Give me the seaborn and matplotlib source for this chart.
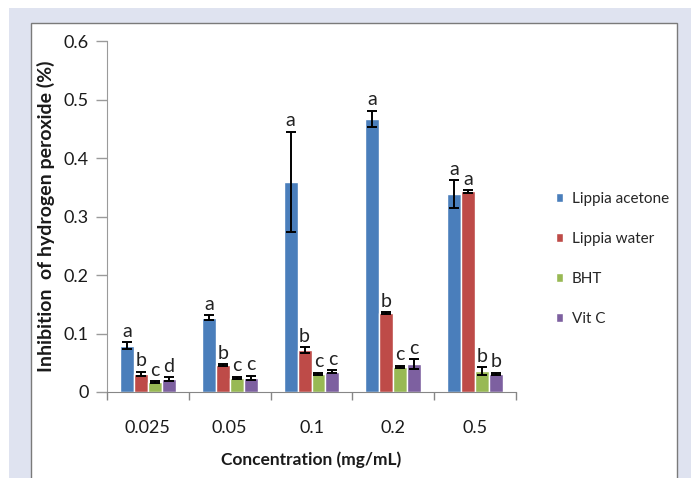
"""Inhibition of hydrogen peroxide by Lippia extracts vs. reference antioxidants."""
import matplotlib
matplotlib.use("Agg")
import matplotlib.pyplot as plt
import numpy as np
import pandas as pd
import seaborn as sns
from matplotlib.patches import Rectangle
from matplotlib.ticker import FixedLocator

# ---------------------------------------------------------------------------
# Data
# ---------------------------------------------------------------------------
concentrations = ["0.025", "0.05", "0.1", "0.2", "0.5"]
series = ["Lippia acetone", "Lippia water", "BHT", "Vit C"]

acetone_mean = [0.079, 0.127, 0.359, 0.467, 0.338]
acetone_err = [0.006, 0.004, 0.086, 0.014, 0.024]
water_mean = [0.031, 0.046, 0.072, 0.135, 0.343]
water_err = [0.004, 0.002, 0.005, 0.002, 0.002]
bht_mean = [0.017, 0.024, 0.031, 0.043, 0.036]
bht_err = [0.002, 0.002, 0.002, 0.002, 0.007]
vitc_mean = [0.022, 0.024, 0.035, 0.048, 0.031]
vitc_err = [0.003, 0.004, 0.002, 0.008, 0.002]

acetone_letters = ["a", "a", "a", "a", "a"]
water_letters = ["b", "b", "b", "b", "a"]
bht_letters = ["c", "c", "c", "c", "b"]
vitc_letters = ["d", "c", "c", "c", "b"]

colors = ["#4a7ebb", "#be4b48", "#98b954", "#7d60a0"]

means = [acetone_mean, water_mean, bht_mean, vitc_mean]
errs = [acetone_err, water_err, bht_err, vitc_err]
letters = [acetone_letters, water_letters, bht_letters, vitc_letters]

df = pd.DataFrame({
    "conc": np.tile(concentrations, len(series)),
    "group": np.repeat(series, len(concentrations)),
    "value": np.concatenate(means),
})

# ---------------------------------------------------------------------------
# Figure
# ---------------------------------------------------------------------------
sns.set_style("white")
plt.rcParams["font.family"] = ["Lato", "DejaVu Sans"]

W, H = 691, 478
fig = plt.figure(figsize=(W / 100, H / 100), dpi=100)

# lavender page background + white framed chart area
fig.patches.append(Rectangle((9 / W, 0), 1, 1 - 8 / H, transform=fig.transFigure,
                             facecolor="#dfe3f0", edgecolor="none", zorder=-3))
fig.patches.append(Rectangle((31 / W, -0.05), (677 - 31) / W, 0.05 + 1 - 23 / H,
                             transform=fig.transFigure, facecolor="white",
                             edgecolor="#7a7a7a", linewidth=1.0, zorder=-2))

ax = fig.add_axes([107 / W, 1 - 392 / H, (516 - 107) / W, (392 - 41) / H])
ax.patch.set_alpha(0)

sns.barplot(data=df, x="conc", y="value", hue="group", order=concentrations,
            hue_order=series, palette=colors, errorbar=None, width=0.68,
            gap=0, saturation=1, ax=ax, legend=True)

# error bars and significance letters on top of seaborn's bars
for container, m, e, lt in zip(ax.containers, means, errs, letters):
    for bar, v, s, t in zip(container.patches, m, e, lt):
        xc = bar.get_x() + bar.get_width() / 2
        ax.errorbar(xc, v, yerr=s, fmt="none", ecolor="black",
                    elinewidth=1.4, capsize=3.5, capthick=1.4, zorder=4)
        ax.text(xc, v + s + 0.004, t, ha="center", va="bottom",
                fontsize=14, color="#222222", zorder=5)

ax.set_ylim(0, 0.6)
ax.set_xlim(-0.5, len(concentrations) - 0.5)
ax.set_yticks(np.arange(0, 0.61, 0.1))
ax.set_yticklabels(["0", "0.1", "0.2", "0.3", "0.4", "0.5", "0.6"])
ax.xaxis.set_minor_locator(FixedLocator(np.arange(-0.5, len(concentrations), 1.0)))
ax.tick_params(axis="x", which="major", length=0, pad=20, labelsize=13,
               labelcolor="#1a1a1a")
ax.tick_params(axis="x", which="minor", length=6, width=1, color="#868686",
               direction="out", bottom=True)
ax.tick_params(axis="y", length=8, width=1, color="#9a9a9a", direction="out",
               left=True, labelsize=13, labelcolor="#1a1a1a", pad=5)

sns.despine(ax=ax)
ax.spines["left"].set_color("#9a9a9a")
ax.spines["bottom"].set_color("#868686")

ax.set_xlabel("Concentration (mg/mL)", fontsize=12.5, fontweight="bold",
              color="#1a1a1a", labelpad=11)
ax.set_ylabel("Inhibition  of hydrogen peroxide (%)", fontsize=14,
              fontweight="bold", color="#1a1a1a", labelpad=6)

handles, labels = ax.get_legend_handles_labels()
ax.get_legend().remove()
fig.legend(handles, labels, loc="center left",
           bbox_to_anchor=(542 / W, 1 - 259 / H), frameon=False,
           fontsize=11, handlelength=0.45, handleheight=0.45,
           handletextpad=0.6, labelspacing=1.7)

fig.savefig("out.png", dpi=100)
